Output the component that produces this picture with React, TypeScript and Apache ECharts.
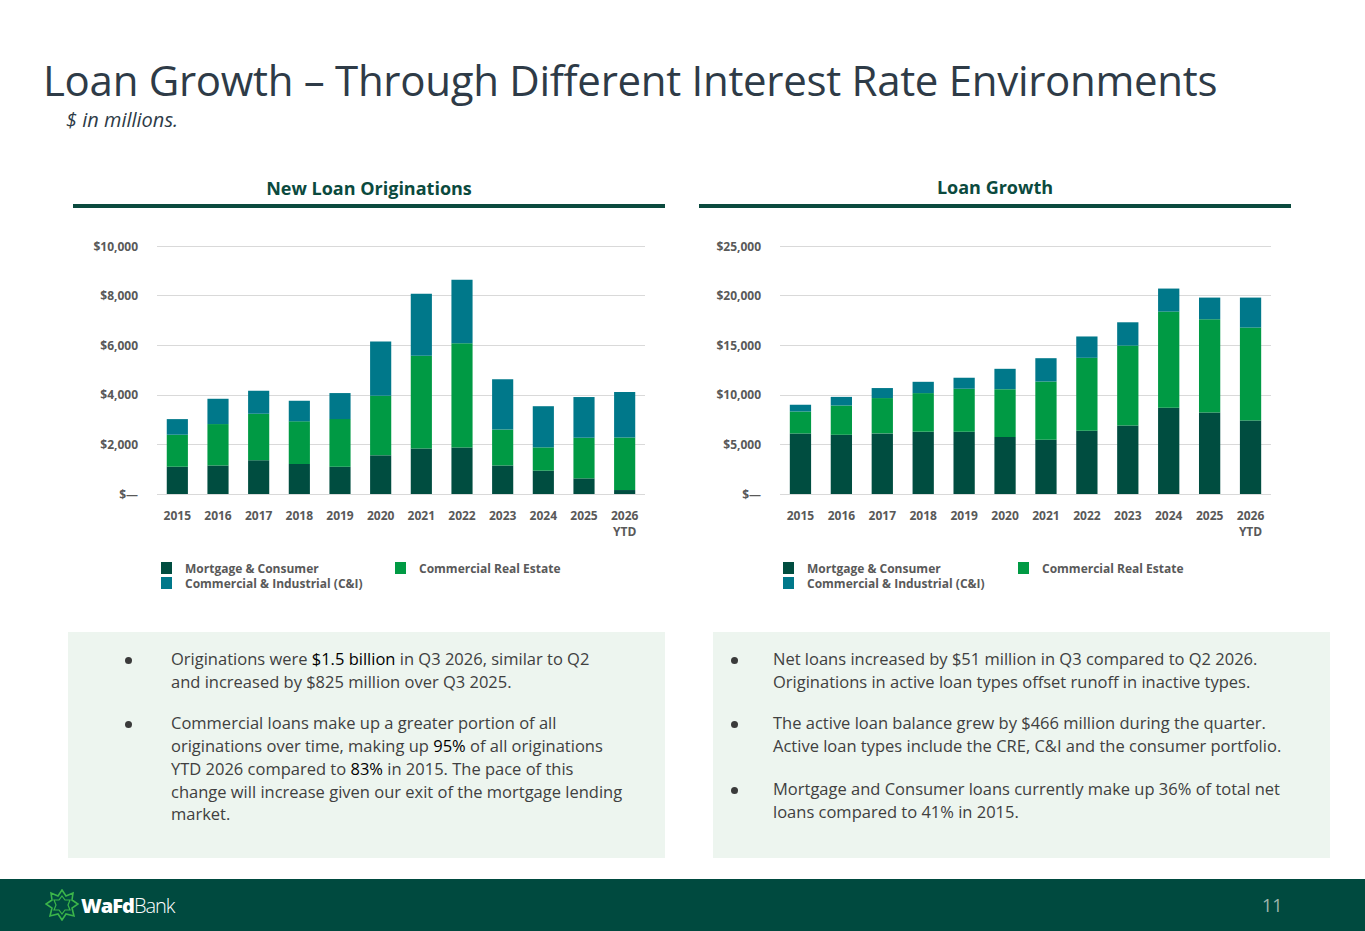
import React, { useEffect, useRef } from "react";
import * as echarts from "echarts";

const categories = ["2015", "2016", "2017", "2018", "2019", "2020", "2021", "2022", "2023", "2024", "2025", "2026\nYTD"];
const seriesNames = ["Mortgage & Consumer", "Commercial Real Estate", "Commercial & Industrial (C&I)"];

// New Loan Originations ($ in millions)
const origMortgage = [1100, 1150, 1360, 1210, 1100, 1560, 1830, 1870, 1150, 940, 630, 160];
const origCRE = [1290, 1670, 1880, 1720, 1920, 2400, 3740, 4210, 1450, 940, 1640, 2120];
const origCI = [630, 1020, 920, 830, 1050, 2190, 2500, 2560, 2030, 1660, 1640, 1830];

// Loan Growth ($ in millions)
const growthMortgage = [6110, 5970, 6110, 6280, 6280, 5740, 5470, 6380, 6910, 8690, 8220, 7420];
const growthCRE = [2210, 2950, 3560, 3890, 4330, 4830, 5870, 7350, 8050, 9700, 9400, 9360];
const growthCI = [670, 870, 1010, 1140, 1110, 2050, 2350, 2150, 2350, 2320, 2180, 3020];

const origTicks = { max: 10000, interval: 2000 };
const growthTicks = { max: 25000, interval: 5000 };

const COLORS = ["#004d40", "#009a44", "#00788a"];
const FONT = "'Open Sans', 'Noto Sans', sans-serif";
const LABEL_GRAY = "#595959";

function fmtMoney(v: number) {
  if (v === 0) return "$—";
  return "$" + v.toLocaleString("en-US");
}

function buildOption(
  data: number[][],
  ticks: { max: number; interval: number },
  gridLeft: number,
  gridRight: number,
  legendLeft: number,
  legendCRELeft: number
) {
  const legendText = {
    color: LABEL_GRAY,
    fontFamily: FONT,
    fontWeight: "bold" as const,
    fontSize: 12,
    padding: [0, 0, 0, 8],
  };
  const legendBase = {
    icon: "rect",
    itemWidth: 11,
    itemHeight: 12,
    textStyle: legendText,
    selectedMode: false,
  };
  return {
    animation: false,
    color: COLORS,
    grid: { left: gridLeft, right: gridRight, top: 26, bottom: 116 },
    legend: [
      { ...legendBase, data: [seriesNames[0]], left: legendLeft, top: 337 },
      { ...legendBase, data: [seriesNames[1]], left: legendCRELeft, top: 337 },
      { ...legendBase, data: [seriesNames[2]], left: legendLeft, top: 352 },
    ],
    xAxis: {
      type: "category",
      data: categories,
      axisLine: { show: false },
      axisTick: { show: false },
      axisLabel: {
        color: LABEL_GRAY,
        fontFamily: FONT,
        fontWeight: "bold",
        fontSize: 12,
        lineHeight: 16,
        margin: 13,
        interval: 0,
      },
    },
    yAxis: {
      type: "value",
      min: 0,
      max: ticks.max,
      interval: ticks.interval,
      axisLine: { show: false },
      axisTick: { show: false },
      splitLine: { lineStyle: { color: "#d9d9d9", width: 1 } },
      axisLabel: {
        color: LABEL_GRAY,
        fontFamily: FONT,
        fontWeight: "bold",
        fontSize: 12,
        margin: 19,
        formatter: (v: number) => fmtMoney(v),
      },
    },
    series: seriesNames.map((name, i) => ({
      name,
      type: "bar",
      stack: "total",
      barWidth: "52%",
      data: data[i],
      itemStyle: { color: COLORS[i] },
    })),
  };
}

function Chart(props: {
  data: number[][];
  ticks: { max: number; interval: number };
  gridLeft: number;
  gridRight: number;
  legendLeft: number;
  legendCRELeft: number;
  style: React.CSSProperties;
}) {
  const ref = useRef<HTMLDivElement>(null);
  useEffect(() => {
    if (!ref.current) return;
    const chart = echarts.init(ref.current, undefined, { renderer: "svg" });
    chart.setOption(
      buildOption(props.data, props.ticks, props.gridLeft, props.gridRight, props.legendLeft, props.legendCRELeft)
    );
    return () => chart.dispose();
  }, []);
  return <div ref={ref} style={props.style} />;
}

const textGray = "#404040";

function Bullet(props: { children: React.ReactNode; bulletLeft: number; textLeft: number; mt: number }) {
  return (
    <div style={{ position: "relative", marginTop: props.mt }}>
      <span
        style={{
          position: "absolute",
          left: props.bulletLeft - 3,
          top: 9,
          width: 7,
          height: 7,
          borderRadius: 4,
          background: "#3a3a3a",
        }}
      />
      <div style={{ marginLeft: props.textLeft }}>{props.children}</div>
    </div>
  );
}

const hl: React.CSSProperties = { color: "#000000" };

const boxStyle: React.CSSProperties = {
  position: "absolute",
  top: 632,
  height: 226,
  background: "#edf5ef",
  color: textGray,
  fontSize: 16.5,
  lineHeight: "22.7px",
  boxSizing: "border-box",
  paddingTop: 16,
  whiteSpace: "nowrap",
};

export default function App() {
  return (
    <div
      style={{
        position: "absolute",
        left: 0,
        top: 0,
        width: 1365,
        height: 931,
        background: "#ffffff",
        overflow: "hidden",
        fontFamily: FONT,
      }}
    >
      <div
        style={{
          position: "absolute",
          left: 43,
          top: 50,
          fontSize: 42,
          color: "#2e3b47",
          fontWeight: 400,
          letterSpacing: -0.3,
          whiteSpace: "nowrap",
          lineHeight: "60px",
        }}
      >
        Loan Growth – Through Different Interest Rate Environments
      </div>
      <div
        style={{
          position: "absolute",
          left: 66,
          top: 106,
          fontSize: 20,
          fontStyle: "italic",
          color: "#2e3b47",
          lineHeight: "28px",
        }}
      >
        $ in millions.
      </div>

      {/* section headers */}
      <div
        style={{
          position: "absolute",
          left: 73,
          width: 592,
          top: 175,
          textAlign: "center",
          fontSize: 18,
          fontWeight: 700,
          color: "#0b4a3e",
          lineHeight: "26px",
        }}
      >
        New Loan Originations
      </div>
      <div style={{ position: "absolute", left: 73, width: 592, top: 204, height: 4, background: "#0b4a3e" }} />
      <div
        style={{
          position: "absolute",
          left: 699,
          width: 592,
          top: 174,
          textAlign: "center",
          fontSize: 18,
          fontWeight: 700,
          color: "#0b4a3e",
          lineHeight: "26px",
        }}
      >
        Loan Growth
      </div>
      <div style={{ position: "absolute", left: 699, width: 592, top: 204, height: 4, background: "#0b4a3e" }} />

      <Chart
        data={[origMortgage, origCRE, origCI]}
        ticks={origTicks}
        gridLeft={157}
        gridRight={37}
        legendLeft={156}
        legendCRELeft={390}
        style={{ position: "absolute", left: 0, top: 220, width: 682, height: 390 }}
      />
      <Chart
        data={[growthMortgage, growthCRE, growthCI]}
        ticks={growthTicks}
        gridLeft={98}
        gridRight={94}
        legendLeft={96}
        legendCRELeft={331}
        style={{ position: "absolute", left: 682, top: 220, width: 683, height: 390 }}
      />

      {/* text boxes */}
      <div style={{ ...boxStyle, left: 68, width: 597 }}>
        <Bullet bulletLeft={60} textLeft={103} mt={0}>
          Originations were <span style={hl}>$1.5 billion</span> in Q3 2026, similar to Q2
          <br />
          and increased by $825 million over Q3 2025.
        </Bullet>
        <Bullet bulletLeft={60} textLeft={103} mt={19}>
          Commercial loans make up a greater portion of all
          <br />
          originations over time, making up <span style={hl}>95%</span> of all originations
          <br />
          YTD 2026 compared to <span style={hl}>83%</span> in 2015. The pace of this
          <br />
          change will increase given our exit of the mortgage lending
          <br />
          market.
        </Bullet>
      </div>
      <div style={{ ...boxStyle, left: 713, width: 617 }}>
        <Bullet bulletLeft={21} textLeft={60} mt={0}>
          Net loans increased by $51 million in Q3 compared to Q2 2026.
          <br />
          Originations in active loan types offset runoff in inactive types.
        </Bullet>
        <Bullet bulletLeft={21} textLeft={60} mt={19}>
          The active loan balance grew by $466 million during the quarter.
          <br />
          Active loan types include the CRE, C&amp;I and the consumer portfolio.
        </Bullet>
        <Bullet bulletLeft={21} textLeft={60} mt={20}>
          Mortgage and Consumer loans currently make up 36% of total net
          <br />
          loans compared to 41% in 2015.
        </Bullet>
      </div>

      {/* footer */}
      <div style={{ position: "absolute", left: 0, top: 879, width: 1365, height: 52, background: "#004a3f" }}>
        <svg width={34} height={32} viewBox="0 0 34 32" style={{ position: "absolute", left: 45, top: 10 }}>
          <polygon
            points="17,1 21,7 28,4 27,11 33,15 27,19 29,27 21,25 17,31 13,25 5,27 7,19 1,15 7,11 6,4 13,7"
            fill="none"
            stroke="#3bb54a"
            strokeWidth={1.6}
          />
          <polygon
            points="17,7 20,11 25,11 23,16 25,21 20,21 17,25 14,21 9,21 11,16 9,11 14,11"
            fill="none"
            stroke="#3bb54a"
            strokeWidth={1.2}
          />
        </svg>
        <div
          style={{
            position: "absolute",
            left: 81,
            top: 13,
            fontSize: 20,
            color: "#ffffff",
            lineHeight: "28px",
            whiteSpace: "nowrap",
            letterSpacing: -1,
          }}
        >
          <span style={{ fontWeight: 800 }}>WaFd</span>
          <span style={{ fontWeight: 300 }}>Bank</span>
        </div>
        <div
          style={{
            position: "absolute",
            left: 1262,
            top: 13,
            fontSize: 18,
            color: "#9fb5ad",
            lineHeight: "26px",
          }}
        >
          11
        </div>
      </div>
    </div>
  );
}
